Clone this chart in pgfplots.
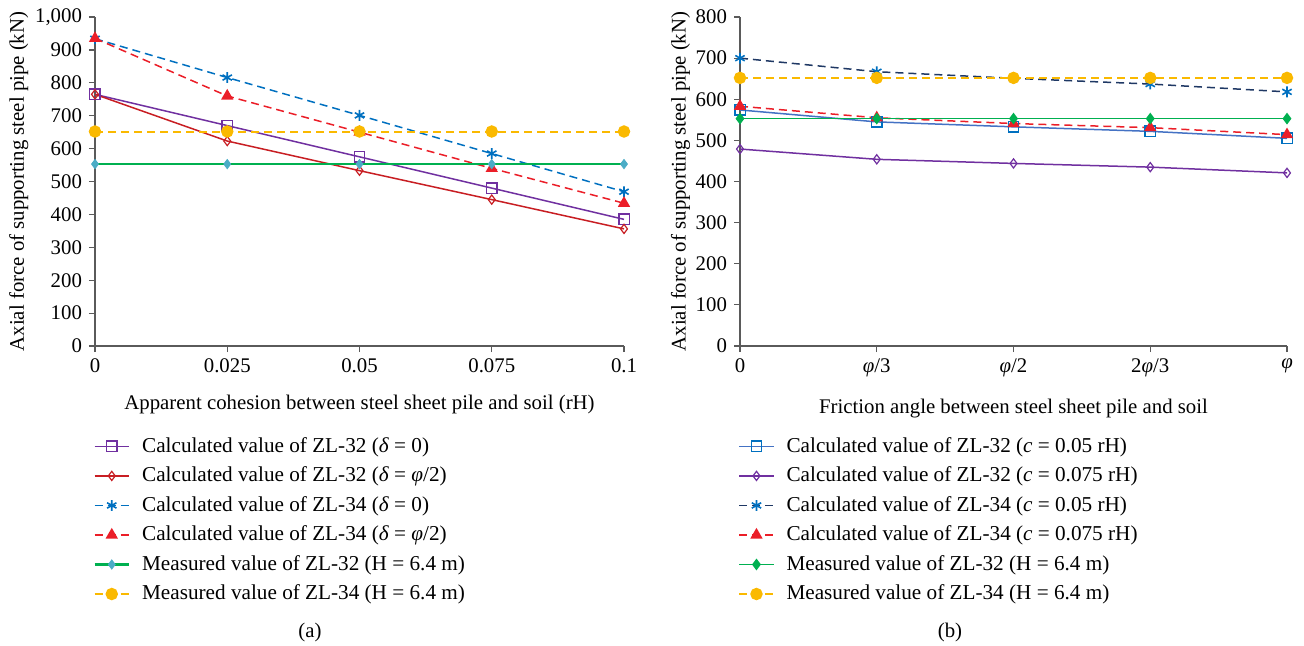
\documentclass[border=0pt]{standalone}
\usepackage{fontspec}
\setmainfont{Liberation Serif}
\usepackage{pgfplots}
\pgfplotsset{compat=1.18}

\definecolor{cpurple}{RGB}{112,48,160}
\definecolor{cdred}{RGB}{200,30,35}
\definecolor{cblue}{RGB}{0,112,192}
\definecolor{cnavy}{RGB}{31,56,100}
\definecolor{clblue}{RGB}{68,114,196}
\definecolor{cred}{RGB}{235,30,40}
\definecolor{cgreen}{RGB}{0,176,80}
\definecolor{cteal}{RGB}{75,172,198}
\definecolor{amber}{RGB}{250,185,0}
\definecolor{caxis}{RGB}{90,90,90}

\newcommand{\lgap}{\hspace*{4pt}}

\pgfplotsset{
  myax/.style={
    scale only axis,
    axis lines*=left,
    axis line style={-, caxis, line width=0.6pt},
    tick align=outside,
    major tick length=3pt,
    tick style={caxis, line width=0.6pt},
    /pgf/number format/assume math mode=true,
    enlargelimits=false,
    clip=false,
    font=\fontsize{10.4}{12.5}\selectfont,
    ylabel={Axial force of supporting steel pipe (kN)},
    xlabel style={yshift=-4pt},
    legend style={draw=none, fill=none, at={(0,0)}, anchor=north west,
      xshift=-1pt, yshift=-43.5pt, row sep=1.8pt, inner sep=0pt,
      nodes={inner sep=2pt}, font=\fontsize{10.6}{12.6}\selectfont},
    legend cell align=left,
    dsh/.style={dash pattern=on 4pt off 2.5pt},
  }
}

\begin{document}
\begin{tikzpicture}
\path[use as bounding box] (-47.5pt,-149.5pt) rectangle (604.5pt,173pt);

% (a)
\begin{axis}[myax,
  width=264.5pt, height=164.5pt,
  xmin=0, xmax=0.1, ymin=0, ymax=1000,
  xtick={0,0.025,0.05,0.075,0.1},
  xticklabels={0,0.025,0.05,0.075,0.1},
  ytick={0,100,...,1000},
  /pgf/number format/1000 sep={,},
  ylabel style={yshift=-3.5pt},
  xlabel={Apparent cohesion between steel sheet pile and soil (rH)},
]
\addplot[cpurple, line width=0.75pt, mark=square, mark size=2.6pt, mark options={solid, fill=white, line width=0.7pt}] coordinates {
  (0,765) (0.025,670) (0.05,575) (0.075,480) (0.1,385)};
\addlegendentry{\lgap Calculated value of ZL-32 (\textit{δ} = 0)}
\addplot[cdred, line width=0.75pt, mark=diamond, mark size=2.3pt, mark options={solid, fill=white, line width=0.6pt}] coordinates {
  (0,765) (0.025,623) (0.05,533) (0.075,445) (0.1,356)};
\addlegendentry{\lgap Calculated value of ZL-32 (\textit{δ} = \textit{φ}/2)}
\addplot[cblue, line width=0.75pt, dsh, mark=asterisk, mark size=2.7pt, mark options={solid, line width=0.8pt}] coordinates {
  (0,934) (0.025,816) (0.05,701) (0.075,585) (0.1,469)};
\addlegendentry{\lgap Calculated value of ZL-34 (\textit{δ} = 0)}
\addplot[cred, line width=0.75pt, dsh, mark=triangle*, mark size=2.8pt, mark options={solid, fill=cred}] coordinates {
  (0,935) (0.025,760) (0.05,650) (0.075,540) (0.1,434)};
\addlegendentry{\lgap Calculated value of ZL-34 (\textit{δ} = \textit{φ}/2)}
\addplot[cgreen, line width=1.3pt, mark=diamond*, mark size=2.3pt, mark options={solid, fill=cteal, draw=cteal, line width=0.4pt}] coordinates {
  (0,553) (0.025,553) (0.05,553) (0.075,553) (0.1,553)};
\addlegendentry{\lgap Measured value of ZL-32 (H = 6.4 m)}
\addplot[amber, line width=1pt, dsh, mark=*, mark size=2.6pt, mark options={solid, fill=amber, draw=amber}] coordinates {
  (0,652) (0.025,652) (0.05,652) (0.075,652) (0.1,652)};
\addlegendentry{\lgap Measured value of ZL-34 (H = 6.4 m)}
\end{axis}

% (b)
\begin{axis}[myax,
  at={(322.5pt,0pt)},
  width=273.5pt, height=164.5pt,
  xmin=0, xmax=4, ymin=0, ymax=800,
  xtick={0,1,2,3,4},
  xticklabels={0,\textit{φ}/3,\textit{φ}/2,2\textit{φ}/3,\textit{φ}},
  ytick={0,100,...,800},
  ylabel style={yshift=-4pt},
  xlabel={Friction angle between steel sheet pile and soil},
]
\addplot[clblue, line width=0.75pt, mark=square, mark size=2.6pt, mark options={solid, fill=white, draw=cblue, line width=0.7pt}] coordinates {
  (0,574) (1,545) (2,533) (3,522) (4,505)};
\addlegendentry{\lgap Calculated value of ZL-32 (\textit{c} = 0.05 rH)}
\addplot[cpurple, line width=0.75pt, mark=diamond, mark size=2.3pt, mark options={solid, fill=white, line width=0.6pt}] coordinates {
  (0,479) (1,454) (2,444) (3,435) (4,421)};
\addlegendentry{\lgap Calculated value of ZL-32 (\textit{c} = 0.075 rH)}
\addplot[cnavy, line width=0.75pt, dsh, mark=asterisk, mark size=2.7pt, mark options={solid, draw=cblue, line width=0.8pt}] coordinates {
  (0,700) (1,667) (2,651) (3,637) (4,618)};
\addlegendentry{\lgap Calculated value of ZL-34 (\textit{c} = 0.05 rH)}
\addplot[cred, line width=0.75pt, dsh, mark=triangle*, mark size=2.8pt, mark options={solid, fill=cred}] coordinates {
  (0,583) (1,555) (2,541) (3,531) (4,514)};
\addlegendentry{\lgap Calculated value of ZL-34 (\textit{c} = 0.075 rH)}
\addplot[cgreen, line width=0.8pt, mark=diamond*, mark size=2.3pt, mark options={solid, fill=cgreen}] coordinates {
  (0,553) (1,553) (2,553) (3,553) (4,553)};
\addlegendentry{\lgap Measured value of ZL-32 (H = 6.4 m)}
\addplot[amber, line width=1pt, dsh, mark=*, mark size=2.6pt, mark options={solid, fill=amber, draw=amber}] coordinates {
  (0,652) (1,652) (2,652) (3,652) (4,652)};
\addlegendentry{\lgap Measured value of ZL-34 (H = 6.4 m)}
\end{axis}

\node[font=\fontsize{10.4}{12.5}\selectfont] at (107.5pt,-143pt) {(a)};
\node[font=\fontsize{10.4}{12.5}\selectfont] at (427.5pt,-143pt) {(b)};
\end{tikzpicture}
\end{document}
